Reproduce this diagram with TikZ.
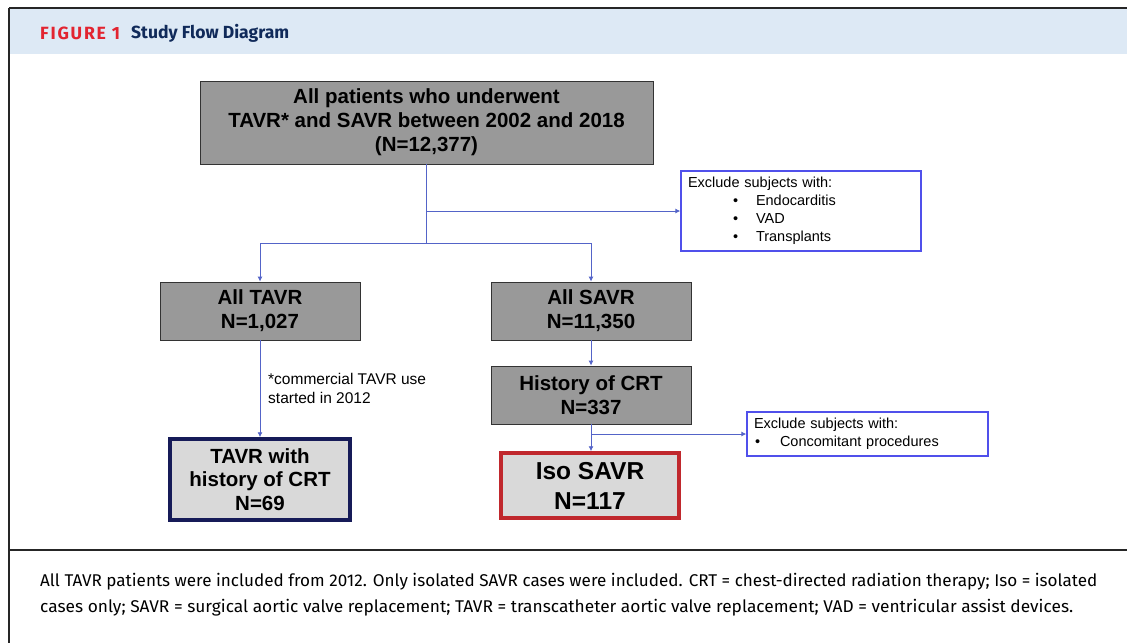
\documentclass[tikz,border=0pt]{standalone}
\usepackage{fontspec}
\usepackage{graphicx}
\usepackage{xcolor}
\setmainfont{Liberation Sans}
\newfontfamily\capfont{Fira Sans}
\usetikzlibrary{arrows.meta,positioning}

\definecolor{hdrblue}{RGB}{221,233,245}
\definecolor{figred}{RGB}{226,36,48}
\definecolor{titlenavy}{RGB}{16,42,90}
\definecolor{boxgray}{RGB}{153,153,153}
\definecolor{lightfill}{RGB}{217,217,217}
\definecolor{tavrnavy}{RGB}{22,27,88}
\definecolor{isored}{RGB}{192,40,45}
\definecolor{linkblue}{RGB}{84,100,200}
\definecolor{exclblue}{RGB}{80,80,235}

\tikzset{
  graybox/.style={draw=black!80, fill=boxgray, line width=0.8pt, align=center,
    font=\bfseries\fontsize{20.5}{24}\selectfont, inner sep=0pt},
  endbox/.style={fill=lightfill, line width=3.5pt, align=center, inner sep=0pt},
  exclbox/.style={draw=exclblue, line width=1.3pt, align=left,
    font=\fontsize{14.5}{18}\selectfont, inner xsep=7pt, inner ysep=0pt},
  link/.style={draw=linkblue, line width=0.9pt},
  linkarrow/.style={link, -{Latex[length=5pt,width=5pt]}},
}

\begin{document}
\begin{tikzpicture}[x=1pt,y=-1pt]
        \useasboundingbox (0,0) rectangle (1127,643);

        %% frame and header
        \fill[hdrblue] (10,9) rectangle (1127,54);
        \draw[black!85, line width=2pt] (9,8) -- (1127,8);
        \draw[black!85, line width=1.5pt] (9,8) -- (9,643);
        \draw[black!85, line width=1.5pt] (9,550) -- (1127,550);
        \node[anchor=west, inner sep=0pt] (figno) at (40,33)
            {\resizebox{80pt}{!}{\capfont\bfseries\fontsize{16}{18}\selectfont\addfontfeatures{LetterSpace=10}\textcolor{figred}{FIGURE 1}}};
        \node[anchor=west, inner sep=0pt] (title) at (131,33)
            {\resizebox{158pt}{!}{\capfont\bfseries\fontsize{17.5}{20}\selectfont\textcolor{titlenavy}{Study Flow Diagram}}};

        %% boxes
        \node[graybox, minimum width=453, minimum height=83] (all) at (426.5,122.5)
            {All patients who underwent\\TAVR* and SAVR between 2002 and 2018\\(N=12,377)};
        \node[exclbox, text width=226pt, minimum height=80] (excl1) at (801,211)
            {Exclude subjects with:\\
             \hspace*{45pt}\makebox[23pt][l]{\textbullet}Endocarditis\\
             \hspace*{45pt}\makebox[23pt][l]{\textbullet}VAD\\
             \hspace*{45pt}\makebox[23pt][l]{\textbullet}Transplants};

        \node[graybox, minimum width=200, minimum height=58] (tavr) at (260,311) {All TAVR\\N=1,027};
        \node[graybox, minimum width=200, minimum height=58] (savr) at (591,311) {All SAVR\\N=11,350};
        \node[graybox, minimum width=200, minimum height=58] (crt) at (591,395) {History of CRT\\N=337};

        \node[endbox, draw=tavrnavy, minimum width=180, minimum height=81,
              font=\bfseries\fontsize{20.5}{23.5}\selectfont] (tavrcrt) at (260,479.5)
            {TAVR with\\history of CRT\\N=69};
        \node[endbox, draw=isored, minimum width=178, minimum height=65,
              font=\bfseries\fontsize{24.5}{30}\selectfont] (iso) at (590,485.5)
            {Iso SAVR\\N=117};

        \node[exclbox, text width=227pt, minimum height=44] (excl2) at (867.5,434)
            {Exclude subjects with:\\
             \hspace*{1pt}\makebox[25pt][l]{\textbullet}Concomitant procedures};

        % note
        \node[anchor=west, align=left, inner sep=0pt, font=\fontsize{15.5}{19}\selectfont] (note)
            at (268,388) {*commercial TAVR use\\started in 2012};

        %% connectors
        \coordinate (split) at (all.south |- 0,243);
        \draw[link] (all.south) -- (split);
        \draw[linkarrow] (all.south |- excl1.west) -- (excl1.west);
        \draw[linkarrow] (split) -| (tavr.north);
        \draw[linkarrow] (split) -| (savr.north);
        \draw[linkarrow] (tavr.south) -- (tavrcrt.north);
        \draw[linkarrow] (savr.south) -- (crt.north);
        \draw[linkarrow] (crt.south) -- (crt.south |- iso.north);
        \draw[linkarrow] (crt.south |- excl2.west) -- (excl2.west);

        %% caption
        \node[anchor=west, inner sep=0pt] (cap1) at (40,582)
            {\resizebox{1057pt}{\height}{\capfont\fontsize{17}{20}\selectfont All TAVR patients were included from 2012. Only isolated SAVR cases were included. CRT = chest-directed radiation therapy; Iso = isolated}};
        \node[anchor=west, inner sep=0pt] (cap2) at (40,608)
            {\resizebox{1033pt}{\height}{\capfont\fontsize{17}{20}\selectfont cases only; SAVR = surgical aortic valve replacement; TAVR = transcatheter aortic valve replacement; VAD = ventricular assist devices.}};
\end{tikzpicture}
\end{document}
